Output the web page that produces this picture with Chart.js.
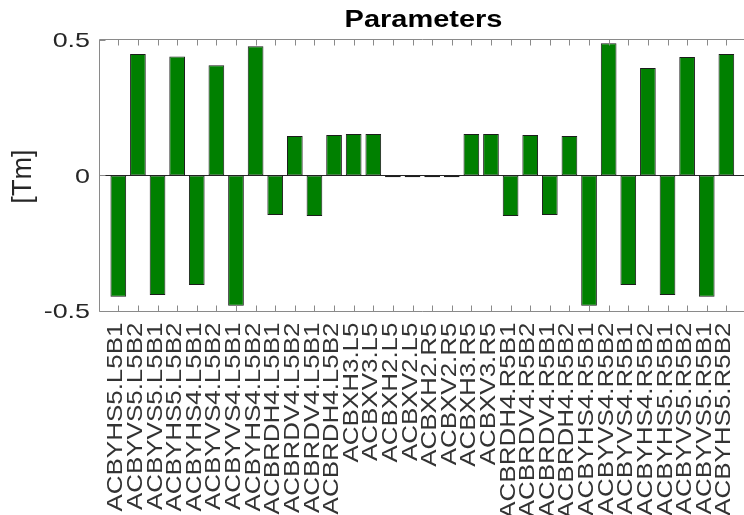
<!DOCTYPE html>
<html>
<head>
<meta charset="utf-8">
<script src="https://cdn.jsdelivr.net/npm/chart.js@4/dist/chart.umd.min.js"></script>
<style>
  html, body { margin: 0; padding: 0; background: #ffffff; overflow: hidden; }
  canvas { display: block; }
</style>
</head>
<body>
<canvas id="c" width="744" height="515"></canvas>
<script>
// Corrector magnets (one bar each)
const magnets = [
  'ACBYHS5.L5B1', 'ACBYVS5.L5B2', 'ACBYVS5.L5B1', 'ACBYHS5.L5B2',
  'ACBYHS4.L5B1', 'ACBYVS4.L5B2', 'ACBYVS4.L5B1', 'ACBYHS4.L5B2',
  'ACBRDH4.L5B1', 'ACBRDV4.L5B2', 'ACBRDV4.L5B1', 'ACBRDH4.L5B2',
  'ACBXH3.L5', 'ACBXV3.L5', 'ACBXH2.L5', 'ACBXV2.L5',
  'ACBXH2.R5', 'ACBXV2.R5', 'ACBXH3.R5', 'ACBXV3.R5',
  'ACBRDH4.R5B1', 'ACBRDV4.R5B2', 'ACBRDV4.R5B1', 'ACBRDH4.R5B2',
  'ACBYHS4.R5B1', 'ACBYVS4.R5B2', 'ACBYVS4.R5B1', 'ACBYHS4.R5B2',
  'ACBYHS5.R5B1', 'ACBYVS5.R5B2', 'ACBYVS5.R5B1', 'ACBYHS5.R5B2'
];

// Integrated kick strength per magnet [Tm]
const kicks = [
  -0.447, 0.448, -0.441, 0.439,
  -0.404, 0.407, -0.481, 0.477,
  -0.146, 0.146, -0.149, 0.149,
   0.153, 0.153, -0.006, -0.006,
  -0.006, -0.006, 0.153, 0.153,
  -0.149, 0.149, -0.146, 0.146,
  -0.481, 0.488, -0.404, 0.397,
  -0.441, 0.437, -0.447, 0.448
];

const yTickValues = [-0.5, 0, 0.5];
const yTickLabels = ['-0.5', '0', '0.5'];
const titleText = 'Parameters';
const yAxisTitle = '[Tm]';

const FONT = '"Liberation Sans", Arial, Helvetica, sans-serif';
const AXIS_GRAY = '#8a8a8a';
const TEXT_DARK = '#262626';

// Draw a text string, optionally rotated and widened along its reading direction
function drawText(ctx, text, x, y, opts) {
  ctx.save();
  ctx.translate(x, y);
  if (opts.angle) ctx.rotate(opts.angle);
  ctx.scale(opts.stretch || 1, 1);
  ctx.font = opts.font;
  ctx.fillStyle = opts.color;
  ctx.textAlign = opts.align || 'left';
  ctx.textBaseline = opts.baseline || 'alphabetic';
  ctx.fillText(text, 0, 0);
  ctx.restore();
}

const crispY = v => Math.round(v) + 0.5;
const crispX = v => Math.round(v) + 0.5;

// Zero baseline behind the bars
const baselinePlugin = {
  id: 'baseline',
  beforeDatasetsDraw(chart) {
    const { ctx, chartArea: a, scales: { y } } = chart;
    const y0 = crispY(y.getPixelForValue(0) - 0.5);
    ctx.save();
    ctx.strokeStyle = '#262626';
    ctx.lineWidth = 1;
    ctx.beginPath();
    ctx.moveTo(a.left, y0);
    ctx.lineTo(a.right, y0);
    ctx.stroke();
    ctx.restore();
  }
};

// Axes box, inward tick marks, tick labels, title and axis label
const axesPlugin = {
  id: 'axesFrame',
  afterDatasetsDraw(chart) {
    const { ctx, chartArea: a, scales: { x, y } } = chart;
    const top = a.top - 0.5, bottom = a.bottom + 0.5, left = a.left - 0.5;
    ctx.save();
    ctx.strokeStyle = AXIS_GRAY;
    ctx.lineWidth = 1;
    ctx.beginPath();
    ctx.moveTo(a.right + 2, top);
    ctx.lineTo(left, top);
    ctx.lineTo(left, bottom);
    ctx.lineTo(a.right + 2, bottom);
    ctx.stroke();

    const tickLen = 6;
    ctx.beginPath();
    magnets.forEach((_, i) => {
      const px = crispX(x.getPixelForValue(i + 1));
      ctx.moveTo(px, top);
      ctx.lineTo(px, top + tickLen);
      ctx.moveTo(px, bottom);
      ctx.lineTo(px, bottom - tickLen);
    });
    yTickValues.forEach(v => {
      const py = crispY(y.getPixelForValue(v) - 0.5);
      ctx.moveTo(left, py);
      ctx.lineTo(left + tickLen, py);
    });
    ctx.stroke();
    ctx.restore();

    // category labels, reading bottom-to-top
    magnets.forEach((name, i) => {
      const px = x.getPixelForValue(i + 1);
      drawText(ctx, name, px - 2, a.bottom + 11.5, {
        angle: -Math.PI / 2, stretch: 1.18, font: '22px ' + FONT,
        color: '#333333', align: 'right', baseline: 'middle'
      });
    });

    // value tick labels
    yTickValues.forEach((v, i) => {
      const py = y.getPixelForValue(v);
      drawText(ctx, yTickLabels[i], a.left - 10, py + 1.5, {
        stretch: 1.28, font: '21px ' + FONT, color: TEXT_DARK,
        align: 'right', baseline: 'middle'
      });
    });

    // title
    drawText(ctx, titleText, (a.left + a.right) / 2 + 1.5, 27, {
      stretch: 1.26, font: 'bold 23px ' + FONT, color: '#000000', align: 'center'
    });

    // value axis label
    drawText(ctx, yAxisTitle, 23, (a.top + a.bottom) / 2 + 1, {
      angle: -Math.PI / 2, stretch: 0.97, font: '28px ' + FONT,
      color: TEXT_DARK, align: 'center', baseline: 'middle'
    });
  }
};

new Chart(document.getElementById('c'), {
  type: 'bar',
  data: {
    datasets: [{
      data: kicks.map((v, i) => ({ x: i + 1, y: v })),
      backgroundColor: '#008000',
      borderColor: '#1c1c1c',
      borderWidth: 1,
      borderSkipped: false,
      categoryPercentage: 1.0,
      barPercentage: 0.8
    }]
  },
  options: {
    responsive: false,
    animation: false,
    events: [],
    layout: { padding: { left: 100, top: 40, right: 0, bottom: 204 } },
    plugins: {
      legend: { display: false },
      title: { display: false },
      tooltip: { enabled: false }
    },
    scales: {
      x: {
        type: 'linear',
        min: 0.067,
        max: 32.9,
        offset: false,
        display: false
      },
      y: {
        min: -0.5,
        max: 0.5,
        display: false
      }
    }
  },
  plugins: [baselinePlugin, axesPlugin]
});
</script>
</body>
</html>
